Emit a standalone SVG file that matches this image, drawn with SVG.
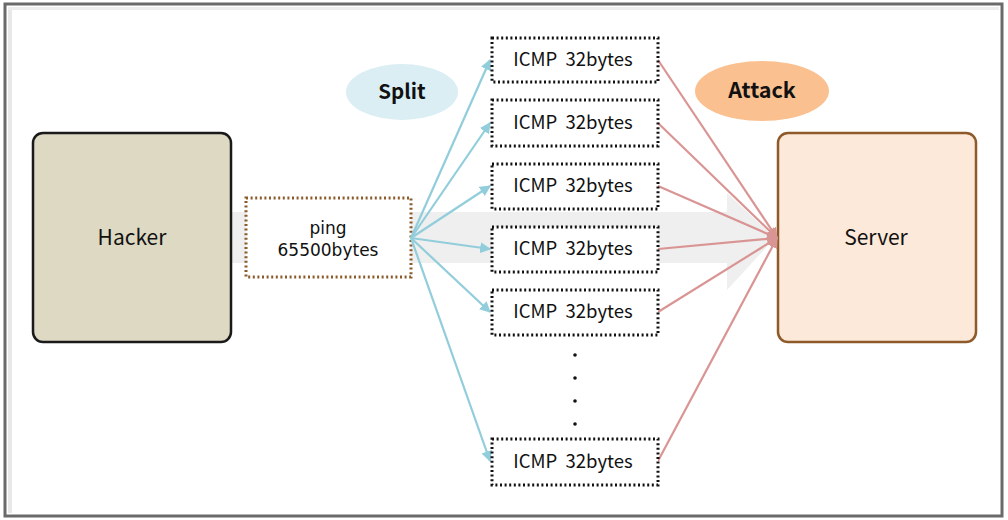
<svg xmlns="http://www.w3.org/2000/svg" width="1008" height="520" viewBox="0 0 1008 520">
<defs>
<style>
.lbl{font-family:"Malgun Gothic","Noto Sans CJK KR","Open Sans","DejaVu Sans",sans-serif;font-size:21px;fill:#111;text-anchor:middle}
.icmp rect{fill:#fff;stroke:#111;stroke-width:3;stroke-dasharray:2 2.6}
.icmp text{font-family:"Malgun Gothic","Noto Sans CJK KR","Open Sans","DejaVu Sans",sans-serif;font-size:18.5px;fill:#111;text-anchor:middle;white-space:pre}
.sm{font-family:"DejaVu Sans",sans-serif;font-size:17px;fill:#111;text-anchor:middle}
.blue{stroke:#92cddc;stroke-width:2.2;fill:none}
.red{stroke:#d99594;stroke-width:2.2;fill:none}
.bold{font-family:"Noto Sans CJK KR","Open Sans","DejaVu Sans",sans-serif;font-weight:bold;font-size:20.5px;fill:#111;text-anchor:middle}
</style>
<marker id="ab" viewBox="0 0 10 10" refX="9" refY="5" markerWidth="5" markerHeight="5" orient="auto" markerUnits="strokeWidth"><path d="M0,0L10,5L0,10z" fill="#92cddc"/></marker>
<marker id="ar" viewBox="0 0 10 10" refX="9" refY="5" markerWidth="5" markerHeight="5" orient="auto" markerUnits="strokeWidth"><path d="M0,0L10,5L0,10z" fill="#d99594"/></marker>
</defs>
<rect x="0" y="0" width="1008" height="520" fill="#fff"/>
<g id="frame">
<rect x="5" y="4" width="997" height="512" fill="#fff" stroke="#6a6a6a" stroke-width="3"/>
<rect x="8" y="7" width="4" height="506" fill="#e8e8e8"/>
<rect x="8" y="7" width="991" height="3" fill="#eeeeee"/>
</g>
<g id="bigarrow">
<path d="M230,212 H727 V193 L775,238 L727,290 V263 H230 Z" fill="#efefef"/>
</g>
<g id="hacker">
<rect x="33" y="133" width="198" height="209" rx="10" fill="#ddd9c3" stroke="#1a1a1a" stroke-width="2.5"/>
<text class="lbl" x="132" y="245">Hacker</text>
</g>
<g id="server">
<rect x="778" y="133" width="198" height="209" rx="10" fill="#fde9d9" stroke="#8e5a2a" stroke-width="2.5"/>
<text class="lbl" x="876" y="245">Server</text>
</g>
<g id="ping">
<rect x="246" y="198" width="165" height="79" fill="#fff" stroke="#8b5a2b" stroke-width="3" stroke-dasharray="2 2.6"/>
<text class="sm" x="328" y="234">ping</text>
<text class="sm" x="328" y="256">65500bytes</text>
</g>
<g id="split">
<ellipse cx="402" cy="92" rx="56" ry="28" fill="#daeef3"/>
<text class="bold" x="402" y="99">Split</text>
</g>
<g id="attack">
<ellipse cx="762" cy="91" rx="67" ry="30" fill="#fac090"/>
<text class="bold" x="762" y="98" style="font-size:21.5px">Attack</text>
</g>
<g id="connectors">
<line class="blue" x1="411" y1="238" x2="490" y2="60" marker-end="url(#ab)"/>
<line class="blue" x1="411" y1="238" x2="490" y2="123" marker-end="url(#ab)"/>
<line class="blue" x1="411" y1="238" x2="490" y2="186" marker-end="url(#ab)"/>
<line class="blue" x1="411" y1="238" x2="490" y2="249" marker-end="url(#ab)"/>
<line class="blue" x1="411" y1="238" x2="490" y2="312" marker-end="url(#ab)"/>
<line class="blue" x1="411" y1="238" x2="490" y2="461" marker-end="url(#ab)"/>
<line class="red" x1="658" y1="60" x2="777" y2="238" marker-end="url(#ar)"/>
<line class="red" x1="658" y1="123" x2="777" y2="238" marker-end="url(#ar)"/>
<line class="red" x1="658" y1="186" x2="777" y2="238" marker-end="url(#ar)"/>
<line class="red" x1="658" y1="249" x2="777" y2="238" marker-end="url(#ar)"/>
<line class="red" x1="658" y1="312" x2="777" y2="238" marker-end="url(#ar)"/>
<line class="red" x1="658" y1="461" x2="777" y2="238" marker-end="url(#ar)"/>
</g>
<g id="icmp1" class="icmp"><rect x="492" y="38" width="166" height="44"/><text x="573" y="66">ICMP  32bytes</text></g>
<g id="icmp2" class="icmp"><rect x="492" y="100" width="166" height="46"/><text x="573" y="129">ICMP  32bytes</text></g>
<g id="icmp3" class="icmp"><rect x="492" y="164" width="166" height="45"/><text x="573" y="192">ICMP  32bytes</text></g>
<g id="icmp4" class="icmp"><rect x="492" y="227" width="166" height="45"/><text x="573" y="255">ICMP  32bytes</text></g>
<g id="icmp5" class="icmp"><rect x="492" y="290" width="166" height="45"/><text x="573" y="318">ICMP  32bytes</text></g>
<g id="icmp6" class="icmp"><rect x="492" y="439" width="166" height="46"/><text x="573" y="468">ICMP  32bytes</text></g>
<g id="dots" fill="#111">
<circle cx="575" cy="355" r="1.8"/>
<circle cx="575" cy="378" r="1.8"/>
<circle cx="575" cy="401" r="1.8"/>
<circle cx="575" cy="424" r="1.8"/>
</g>
</svg>
